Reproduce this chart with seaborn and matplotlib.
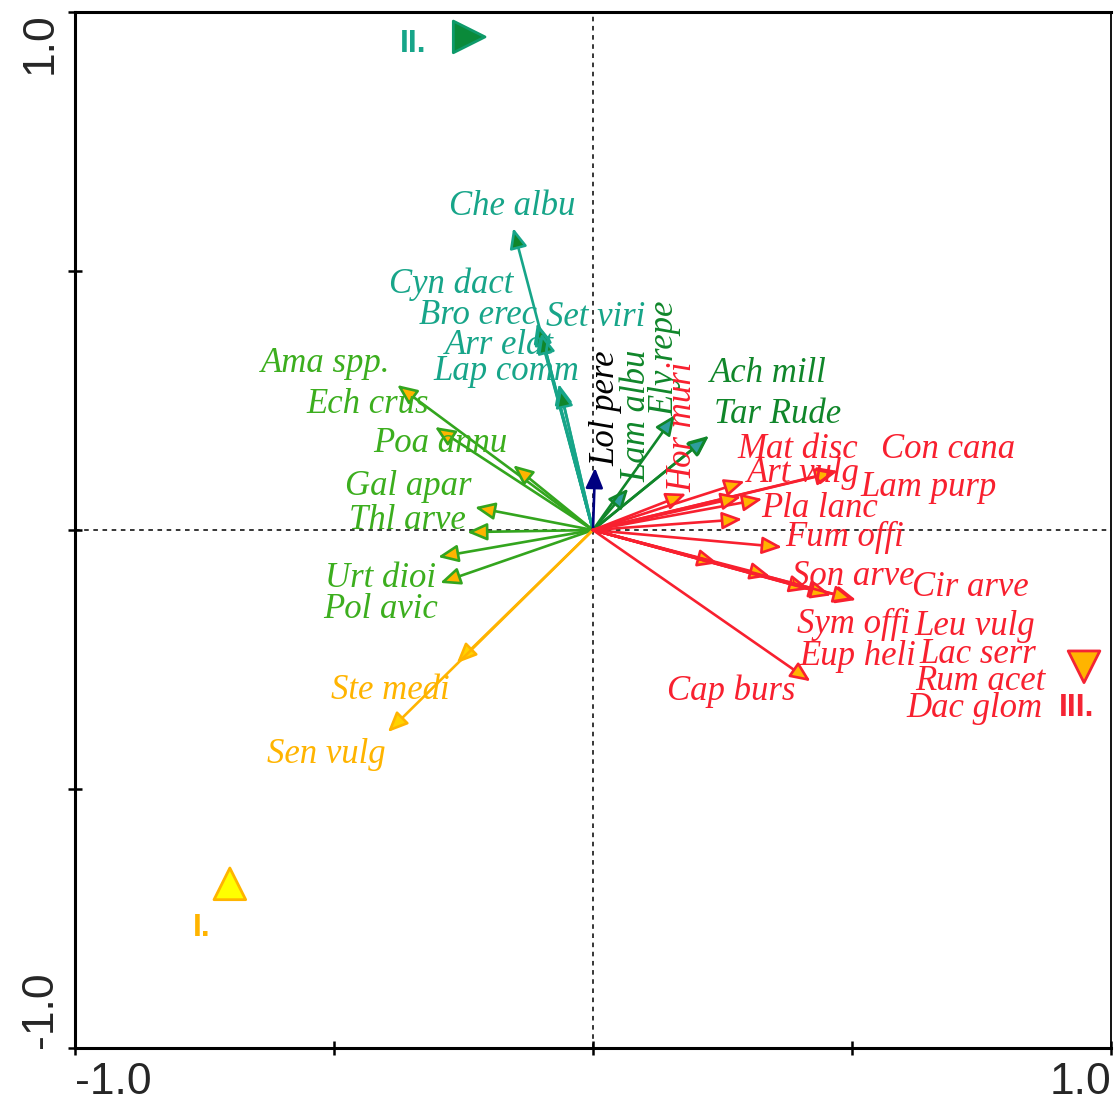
import matplotlib
matplotlib.use("Agg")
import matplotlib.pyplot as plt
import seaborn as sns
import pandas as pd

# ---------------- data ----------------
species = ["Che albu", "Cyn dact", "Bro erec", "Set viri", "Arr elat", "Lap comm",
           "Ama spp.", "Ech crus", "Poa annu", "Gal apar", "Thl arve", "Urt dioi", "Pol avic",
           "Ste medi", "Sen vulg",
           "Ach mill", "Tar Rude", "Lam albu", "Ely repe",
           "Lol pere",
           "Hor muri", "Mat disc", "Con cana", "Art vulg", "Lam purp", "Pla lanc", "Fum offi",
           "Son arve", "Cir arve", "Sym offi", "Leu vulg", "Eup heli", "Lac serr", "Cap burs",
           "Rum acet", "Dac glom"]
groups = (["teal"] * 6 + ["lgreen"] * 7 + ["orange"] * 2 + ["dgreen"] * 4 + ["navy"]
          + ["red"] * 16)
arrow_x = [-0.154, -0.108, -0.106, -0.100, -0.066, -0.064,
           -0.378, -0.305, -0.154, -0.228, -0.243, -0.299, -0.295,
           -0.263, -0.396,
           0.224, 0.222, 0.068, 0.158,
           0.004,
           0.180, 0.327, 0.473, 0.293, 0.468, 0.288, 0.365,
           0.241, 0.508, 0.418, 0.456, 0.342, 0.286, 0.420,
           0.460, 0.503]
arrow_y = [0.583, 0.400, 0.396, 0.380, 0.282, 0.276,
           0.280, 0.199, 0.125, 0.044, -0.004, -0.052, -0.102,
           -0.257, -0.390,
           0.182, 0.180, 0.080, 0.222,
           0.120,
           0.070, 0.060, 0.114, 0.094, 0.112, 0.021, -0.033,
           -0.064, -0.135, -0.114, -0.124, -0.089, 0.064, -0.292,
           -0.126, -0.134]
label_x = [-0.156, -0.274, -0.222, 0.006, -0.181, -0.168,
           -0.517, -0.434, -0.295, -0.357, -0.359, -0.411, -0.411,
           -0.392, -0.515,
           0.338, 0.357, 0.085, 0.139,
           0.025,
           0.174, 0.396, 0.685, 0.407, 0.647, 0.438, 0.486,
           0.502, 0.728, 0.502, 0.737, 0.512, 0.743, 0.266,
           0.747, 0.737]
label_y = [0.625, 0.475, 0.415, 0.411, 0.357, 0.307,
           0.322, 0.243, 0.168, 0.085, 0.019, -0.093, -0.154,
           -0.309, -0.434,
           0.303, 0.224, 0.220, 0.332,
           0.236,
           0.199, 0.156, 0.156, 0.110, 0.083, 0.041, -0.014,
           -0.089, -0.110, -0.183, -0.187, -0.245, -0.241, -0.311,
           -0.293, -0.344]
rotated = ["Lam albu", "Ely repe", "Lol pere", "Hor muri"]

sites = ["I.", "II.", "III."]
site_x = [-0.701, -0.239, 0.948]
site_y = [-0.683, 0.952, -0.264]
site_label_x = [-0.756, -0.347, 0.934]
site_label_y = [-0.768, 0.938, -0.344]

tick_vals = [-1.0, -0.5, 0.0, 0.5, 1.0]
tick_text = ["-1.0", "", "", "", "1.0"]

# ---------------- styles ----------------
line_col = {"teal": "#17A589", "lgreen": "#33A51E", "orange": "#FFB400",
            "dgreen": "#10862A", "navy": "#000080", "red": "#F8202F"}
head_col = {"teal": "#10862A", "lgreen": "#FFB400", "orange": "#FFD400",
            "dgreen": "#2E9E9E", "navy": "#000080", "red": "#FFB400"}
text_col = {"teal": "#17A589", "lgreen": "#3CAE1E", "orange": "#FFB400",
            "dgreen": "#10862A", "navy": "#000000", "red": "#F8202F"}
site_fill = {"I.": "#FFFF00", "II.": "#0A8A3A", "III.": "#FFB400"}
site_edge = ["#FFB400", "#0E9A6A", "#F42434"]
site_marker = {"I.": "^", "II.": ">", "III.": "v"}
site_text_col = ["#FFB400", "#17A589", "#F42434"]

sns.set_theme(style="white")
plt.rcParams["font.family"] = ["Liberation Sans", "DejaVu Sans"]

fig = plt.figure(figsize=(11.19, 11.06), dpi=100)
ax = fig.add_axes([0.067, 0.0524, 0.9258, 0.9367])
ax.set_xlim(-1.0, 1.0)
ax.set_ylim(-1.0, 1.0)

ax.axhline(0, color="black", lw=1.1, ls=(0, (3, 3)), zorder=1)
ax.axvline(0, color="black", lw=1.1, ls=(0, (3, 3)), zorder=1)

for sp, g, x, y in zip(species, groups, arrow_x, arrow_y):
    ax.annotate("", xy=(x, y), xytext=(0, 0),
                arrowprops=dict(arrowstyle="-|>,head_length=0.55,head_width=0.24",
                                mutation_scale=22, lw=1.9,
                                edgecolor=line_col[g], facecolor=head_col[g],
                                shrinkA=0, shrinkB=0), zorder=3)

for sp, g, lx, ly in zip(species, groups, label_x, label_y):
    ax.text(lx, ly, sp, color=text_col[g], fontsize=25, fontstyle="italic",
            family=["Liberation Serif", "DejaVu Serif"],
            rotation=90 if sp in rotated else 0,
            ha="center", va="center", zorder=4)

df_sites = pd.DataFrame({"x": site_x, "y": site_y, "site": sites})
sns.scatterplot(data=df_sites, x="x", y="y", hue="site", style="site",
                palette=site_fill, markers=site_marker, s=520,
                edgecolor=site_edge, linewidth=2, legend=False, ax=ax, zorder=5)
for s, lx, ly, c in zip(sites, site_label_x, site_label_y, site_text_col):
    ax.text(lx, ly, s, color=c, fontsize=23, fontweight="bold",
            ha="center", va="center", zorder=5)

ax.set_xlabel("")
ax.set_ylabel("")
ax.set_xticks(tick_vals)
ax.set_yticks(tick_vals)
ax.set_xticklabels(tick_text, fontsize=32)
ax.set_yticklabels(tick_text, fontsize=32, rotation=90)
ax.tick_params(direction="inout", length=10, width=1.8, color="black", pad=5,
               bottom=True, left=True)
xl = ax.get_xticklabels()
xl[0].set_ha("left")
xl[-1].set_ha("right")
yl = ax.get_yticklabels()
for t in yl:
    t.set_va("center")
yl[0].set_va("bottom")
yl[-1].set_va("top")

for side in ["left", "bottom", "top"]:
    ax.spines[side].set_linewidth(2.2)
    ax.spines[side].set_color("black")
ax.spines["right"].set_linewidth(1.3)
ax.spines["right"].set_color("black")

fig.savefig("out.png", dpi=100)
